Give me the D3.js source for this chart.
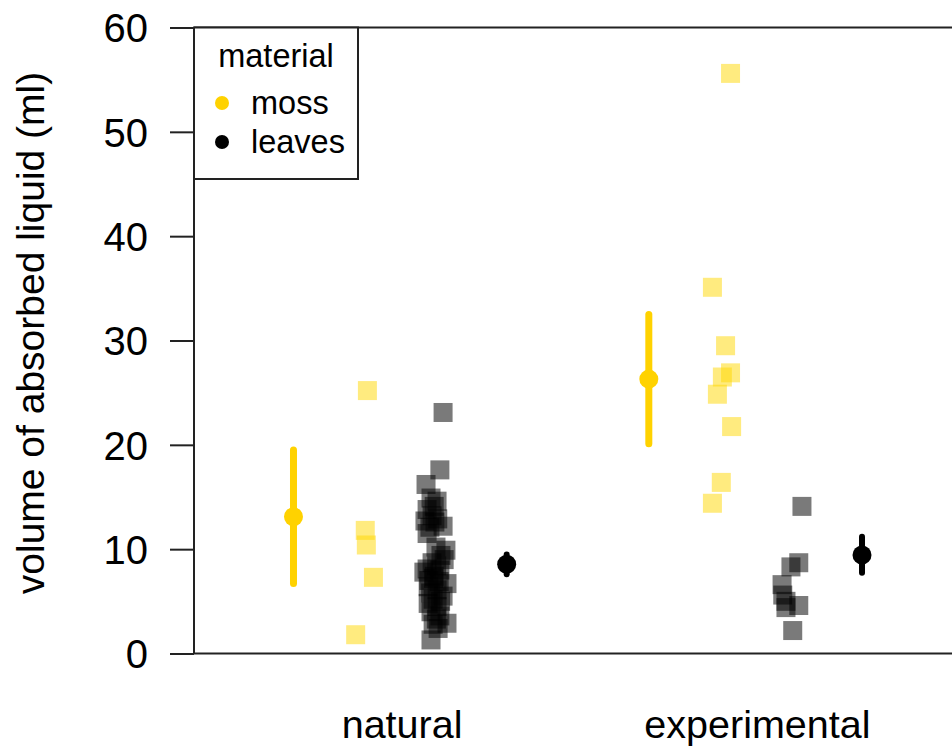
<!DOCTYPE html>
<html>
<head>
<meta charset="utf-8">
<script src="https://cdn.jsdelivr.net/npm/d3@7"></script>
<style>
html,body{margin:0;padding:0;background:#fff;}
svg{display:block;font-family:"Liberation Sans",Arial,sans-serif;}
</style>
</head>
<body>
<svg id="chart" width="952" height="748"></svg>
<script>
// ---- data ----
const categories = ["natural", "experimental"];
const yTicks = [0, 10, 20, 30, 40, 50, 60];
const materials = ["moss", "leaves"];

// raw observations (ml) with small horizontal jitter (category units)
const naturalMoss = [25.2, 11.8, 10.4, 7.3, 1.8];
const naturalMossJit = [0.008, 0.002, 0.005, 0.025, -0.025];

const naturalLeaves = [23.1, 17.6, 16.2, 14.9, 14.6, 13.8, 14.1, 12.7, 12.6, 12.2, 12.1, 11.5,
  9.9, 9.4, 8.7, 8.1, 8.0, 7.4, 7.0, 6.7, 6.4, 6.1, 5.5, 5.2, 4.8, 4.5, 4.0, 3.6, 2.9, 2.8,
  2.4, 1.3, 10.2, 9.0, 7.8, 13.2, 12.9, 7.2, 6.9, 5.8, 5.0, 3.3, 8.4];
const naturalLeavesJit = [0.021, 0.012, -0.027, -0.013, 0.004, -0.024, -0.004, -0.030, -0.002, 0.021, -0.016, -0.024,
  0.029, 0.015, -0.010, -0.024, 0.012, -0.004, -0.019, 0.032, -0.021, 0.004, 0.021, -0.007, -0.021, 0.004, -0.013, 0.012, 0.032, -0.007,
  0.007, -0.013, 0.001, 0.024, -0.033, -0.010, 0.006, -0.006, 0.010, -0.014, 0.014, 0.002, 0.003];

const experimentalMoss = [55.6, 35.1, 29.5, 26.9, 26.5, 24.85, 21.75, 16.4, 14.4];
const experimentalMossJit = [0.030, -0.021, 0.016, 0.030, 0.007, -0.007, 0.033, 0.004, -0.021];

const experimentalLeaves = [14.1, 8.7, 8.3, 6.6, 5.6, 5.0, 4.6, 4.4, 2.2];
const experimentalLeavesJit = [0.031, 0.022, 0.000, -0.025, -0.023, -0.014, 0.022, -0.014, 0.005];

// model estimates: mean, lower, upper
const mossMean = [13.1, 26.3];
const mossLower = [6.7, 20.1];
const mossUpper = [19.5, 32.5];
const leavesMean = [8.55, 9.44];
const leavesLower = [7.6, 7.75];
const leavesUpper = [9.5, 11.2];

// ---- layout ----
const svg = d3.select("#chart");
const plotLeft = 194, plotTop = 27.5, plotBottom = 653.5;
const x = d3.scaleLinear().domain([0.42, 2.58]).range([plotLeft, 961.5]);
const y = d3.scaleLinear().domain([0, 60]).range([plotBottom, plotTop]);
const subOffset = {moss: -0.1, leaves: 0.1, mossMean: -0.3, leavesMean: 0.3};
const gold = "#FFD200";
const axisColor = "#222";

// raw points
const points = [];
function addPts(vals, jit, catIdx, mat) {
  vals.forEach((v, i) => points.push({v, cx: catIdx + 1 + subOffset[mat] + jit[i], mat}));
}
addPts(naturalMoss, naturalMossJit, 0, "moss");
addPts(naturalLeaves, naturalLeavesJit, 0, "leaves");
addPts(experimentalMoss, experimentalMossJit, 1, "moss");
addPts(experimentalLeaves, experimentalLeavesJit, 1, "leaves");

const sq = 19;
svg.append("g").selectAll("rect").data(points).join("rect")
  .attr("x", d => x(d.cx) - sq / 2)
  .attr("y", d => y(d.v) - sq / 2)
  .attr("width", sq).attr("height", sq)
  .attr("fill", d => d.mat === "moss" ? "#FFD700" : "#000")
  .attr("fill-opacity", d => d.mat === "moss" ? 0.5 : 0.52);

// estimates
const est = [];
categories.forEach((c, i) => {
  est.push({cx: i + 1 + subOffset.mossMean, m: mossMean[i], lo: mossLower[i], hi: mossUpper[i], col: gold, w: 7});
  est.push({cx: i + 1 + subOffset.leavesMean, m: leavesMean[i], lo: leavesLower[i], hi: leavesUpper[i], col: "#000", w: 6});
});
const eg = svg.append("g");
eg.selectAll("line").data(est).join("line")
  .attr("x1", d => x(d.cx)).attr("x2", d => x(d.cx))
  .attr("y1", d => y(d.lo)).attr("y2", d => y(d.hi))
  .attr("stroke", d => d.col).attr("stroke-width", d => d.w)
  .attr("stroke-linecap", "round");
eg.selectAll("circle").data(est).join("circle")
  .attr("cx", d => x(d.cx)).attr("cy", d => y(d.m)).attr("r", 9.5)
  .attr("fill", d => d.col);

// frame (box, partly outside view)
svg.append("line").attr("x1", plotLeft).attr("x2", 952).attr("y1", plotTop).attr("y2", plotTop)
  .attr("stroke", axisColor).attr("stroke-width", 2);
svg.append("line").attr("x1", plotLeft).attr("x2", 952).attr("y1", plotBottom).attr("y2", plotBottom)
  .attr("stroke", axisColor).attr("stroke-width", 2);

// y axis
const yAxis = d3.axisLeft(y).tickValues(yTicks).tickSize(24).tickPadding(22).tickFormat(d3.format("d"));
const ya = svg.append("g").attr("transform", `translate(${plotLeft},0)`).call(yAxis);
ya.select(".domain").attr("stroke", axisColor).attr("stroke-width", 2).attr("d", `M0,${plotTop}V${plotBottom}`);
ya.selectAll(".tick line").attr("stroke", axisColor).attr("stroke-width", 2);
ya.selectAll(".tick text").attr("font-size", 40).attr("fill", "#000")
  .attr("font-family", "Liberation Sans, Arial, sans-serif").attr("dy", "0.36em");

// x category labels
svg.append("g").selectAll("text").data(categories).join("text")
  .attr("x", (d, i) => x(i + 1) + 2).attr("y", 738)
  .attr("text-anchor", "middle").attr("font-size", 39.5).attr("fill", "#000")
  .text(d => d);

// y title
svg.append("text")
  .attr("transform", `translate(44,333) rotate(-90)`)
  .attr("text-anchor", "middle").attr("font-size", 39).attr("fill", "#000")
  .text("volume of absorbed liquid (ml)");

// legend
const lg = svg.append("g");
lg.append("rect").attr("x", plotLeft).attr("y", plotTop).attr("width", 164).attr("height", 151.5)
  .attr("fill", "#fff").attr("stroke", axisColor).attr("stroke-width", 2);
lg.append("text").attr("x", 276).attr("y", 67).attr("text-anchor", "middle")
  .attr("font-size", 32.5).attr("fill", "#000").text("material");
const legCols = [gold, "#000"];
lg.selectAll("circle.k").data(materials).join("circle").attr("class", "k")
  .attr("cx", 222).attr("cy", (d, i) => 103 + i * 39).attr("r", 7)
  .attr("fill", (d, i) => legCols[i]);
lg.selectAll("text.k").data(materials).join("text").attr("class", "k")
  .attr("x", 251).attr("y", (d, i) => 114 + i * 39)
  .attr("font-size", 32.5).attr("fill", "#000").text(d => d);
</script>
</body>
</html>
